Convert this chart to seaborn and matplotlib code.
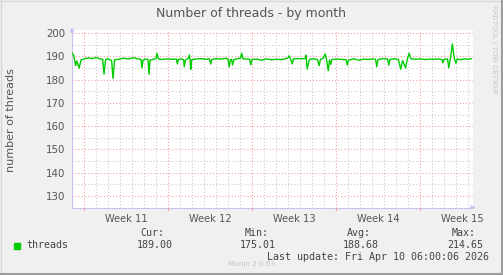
import matplotlib
matplotlib.use('Agg')
import matplotlib.pyplot as plt
import seaborn as sns
import pandas as pd
import numpy as np
from matplotlib.lines import Line2D
from matplotlib.patches import Rectangle

sns.set_style('white')
plt.rcParams['font.family'] = ['DejaVu Sans']

# ---- data (x in days from left edge of graph) ----
days = [
    0.0, 0.15, 0.3, 0.4, 0.6, 0.75, 1.0, 1.4, 1.7, 2.0,
    2.3, 2.55, 2.67, 2.8, 3.0, 3.3, 3.42, 3.55, 3.9, 4.3,
    4.7, 5.1, 5.5, 5.75, 5.83, 5.92, 6.1, 6.33, 6.42, 6.5,
    6.8, 7.0, 7.08, 7.2, 7.5, 7.9, 8.3, 8.7, 8.78, 8.86,
    9.1, 9.3, 9.36, 9.45, 9.7, 9.78, 9.85, 9.9, 9.97, 10.3,
    10.7, 11.1, 11.45, 11.56, 11.65, 12.0, 12.4, 12.8, 13.0, 13.1,
    13.2, 13.3, 13.38, 13.5, 13.8, 14.05, 14.14, 14.25, 14.8, 14.9,
    15.0, 15.4, 15.8, 16.2, 16.6, 17.0, 17.4, 17.8, 18.0, 18.1,
    18.2, 18.36, 18.45, 18.8, 19.2, 19.45, 19.5, 19.6, 19.7, 19.8,
    20.1, 20.45, 20.6, 20.7, 20.95, 21.1, 21.2, 21.36, 21.46, 21.56,
    21.66, 22.0, 22.4, 22.85, 22.94, 23.05, 23.5, 23.9, 24.3, 24.7,
    25.1, 25.3, 25.4, 25.5, 25.9, 26.3, 26.4, 26.5, 26.9, 27.2,
    27.4, 27.55, 27.8, 27.95, 28.1, 28.25, 28.6, 29.0, 29.4, 29.8,
    30.2, 30.6, 30.85, 30.9, 31.0, 31.3, 31.4, 31.55, 31.7, 31.85,
    32.0, 32.1, 32.4, 32.7, 33.0, 33.3,
]
threads = [
    191.5, 190.2, 186.0, 188.0, 184.9, 188.4, 188.9, 189.3, 189.0, 189.5,
    188.9, 188.8, 182.3, 188.6, 188.9, 188.2, 180.5, 188.5, 188.7, 189.2,
    188.8, 189.4, 188.9, 188.6, 185.0, 188.4, 188.8, 188.6, 182.3, 188.3,
    188.7, 189.0, 191.3, 188.9, 188.6, 188.9, 188.7, 188.8, 186.7, 188.6,
    188.9, 188.5, 185.5, 188.4, 189.2, 190.6, 188.0, 184.4, 188.5, 188.8,
    189.0, 188.7, 188.9, 186.7, 188.6, 189.0, 188.8, 189.1, 188.9, 185.5,
    188.5, 188.7, 186.3, 188.6, 189.0, 189.2, 191.3, 188.9, 188.8, 186.3,
    188.6, 188.8, 188.3, 188.9, 188.5, 188.7, 188.6, 188.9, 189.4, 190.2,
    189.0, 186.7, 188.9, 189.0, 188.9, 189.1, 190.5, 184.5, 187.0, 188.7,
    188.9, 188.6, 186.0, 188.6, 189.3, 191.0, 189.0, 183.8, 188.4, 186.5,
    188.6, 188.8, 188.7, 188.5, 186.2, 188.4, 188.9, 188.3, 188.8, 188.6,
    188.9, 188.7, 185.5, 188.6, 189.0, 188.8, 186.2, 188.7, 188.9, 188.6,
    184.4, 188.2, 185.0, 188.8, 191.3, 188.9, 188.7, 188.9, 188.6, 188.8,
    188.7, 188.9, 188.5, 187.2, 188.6, 188.9, 185.0, 189.5, 195.3, 189.5,
    187.0, 188.8, 188.5, 188.9, 188.7, 189.0,
]
week_labels = ['Week 11', 'Week 12', 'Week 13', 'Week 14', 'Week 15']
week_starts = [1.03, 8.03, 15.03, 22.03, 29.03]
y_major = [130, 140, 150, 160, 170, 180, 190, 200]
y_minor = [135, 145, 155, 165, 175, 185, 195]
stat_names = ['Cur:', 'Min:', 'Avg:', 'Max:']
stat_values = ['189.00', '175.01', '188.68', '214.65']
series_name = 'threads'
title = 'Number of threads - by month'
ylabel = 'number of threads'
last_update = 'Last update: Fri Apr 10 06:00:06 2026'

W, H = 503, 275
fig = plt.figure(figsize=(W / 100, H / 100), dpi=100)
fig.patch.set_facecolor('#F0F0F0')

def fx(px):
    return px / W

def fy(py):
    return 1 - py / H

ax = fig.add_axes([fx(72), fy(207.5), fx(401), (207.5 - 30) / H])
ax.set_facecolor('white')

xmax = 33.42
ymin, ymax = 125.06, 201.29

MGRID = '#F59A9A'
GRID = '#C8C8C8'
AXC = '#C4C4EE'
dot = (0, (1, 2))

# grid
for d in np.arange(week_starts[0] - 1, xmax, 1.0):
    if all(abs(d - w) > 0.01 for w in week_starts) and d > 0.05:
        ax.axvline(d, color=GRID, lw=0.75, ls=dot, zorder=1)
for w in week_starts:
    ax.axvline(w, color=MGRID, lw=0.75, ls=dot, zorder=1.1)
for y in y_minor:
    ax.axhline(y, color=GRID, lw=0.75, ls=dot, zorder=1)
for y in y_major:
    ax.axhline(y, color=MGRID, lw=0.75, ls=dot, zorder=1.1)

df = pd.DataFrame({'day': days, 'threads': threads})
sns.lineplot(data=df, x='day', y='threads', color='#00CC00', lw=1.0,
             ax=ax, legend=False, zorder=3)

ax.set_xlim(0, xmax)
ax.set_ylim(ymin, ymax)
ax.set_xlabel('')
ax.set_ylabel('')

for s in ['top', 'right']:
    ax.spines[s].set_visible(False)
for s in ['left', 'bottom']:
    ax.spines[s].set_color(AXC)
    ax.spines[s].set_linewidth(0.8)

mids = [w + 3.5 for w in week_starts]
ax.set_xticks(mids)
ax.set_xticklabels(week_labels)
ax.set_yticks(y_major)
ax.set_yticklabels([str(v) for v in y_major])
ax.tick_params(axis='x', length=0, pad=5, labelsize=7.1, labelcolor='#555555')
ax.tick_params(axis='y', length=2, width=0.7, color=MGRID, pad=3,
               labelsize=7.4, labelcolor='#555555')

# small week tick marks below the x-axis
for w in week_starts:
    ax.plot([w, w], [ymin, ymin - 1.0], color=MGRID, lw=0.8,
            clip_on=False, zorder=4)

# axis arrows
ax.annotate('', xy=(0, 1.03), xytext=(0, 0.98), xycoords='axes fraction',
            arrowprops=dict(arrowstyle='-|>', color=AXC, lw=0.8,
                            mutation_scale=6), annotation_clip=False)
ax.annotate('', xy=(1.013, 0), xytext=(0.99, 0), xycoords='axes fraction',
            arrowprops=dict(arrowstyle='-|>', color=AXC, lw=0.8,
                            mutation_scale=6), annotation_clip=False)

# title and y label
fig.text(fx(251.5), fy(14), title, ha='center', va='center',
         fontsize=9.0, color='#555555')
fig.text(fx(11), fy(120), ylabel, ha='center', va='center', rotation=90,
         fontsize=8.0, color='#555555')

# right vertical credit
fig.text(fx(494), fy(5), 'RRDTOOL / TOBI OETIKER', ha='center', va='top',
         rotation=270, fontsize=5.0, color='#C8C8C8')

# legend block
mono = 'DejaVu Sans Mono'
fig.patches.append(Rectangle((fx(14), fy(249)), fx(6), 6 / H,
                             transform=fig.transFigure, color='#00CC00'))
fig.text(fx(26.5), fy(245.5), series_name, ha='left', va='center',
         family=mono, fontsize=7.2, color='#444444')
name_right = [164.5, 268.5, 371.0, 475.5]
val_right = [172.5, 276.0, 378.5, 482.8]
for nm, vv, xn, xv in zip(stat_names, stat_values, name_right, val_right):
    fig.text(fx(xn), fy(233.5), nm, ha='right', va='center',
             family=mono, fontsize=7.2, color='#444444')
    fig.text(fx(xv), fy(245.5), vv, ha='right', va='center',
             family=mono, fontsize=7.2, color='#444444')
fig.text(fx(489), fy(257), last_update, ha='right', va='center',
         family=mono, fontsize=7.2, color='#444444')
fig.text(fx(251.5), fy(264), 'Munin 2.0.63', ha='center', va='center',
         fontsize=5.2, color='#C4C4C4')

# image border (light top/left, dark bottom/right)
fig.add_artist(Line2D([0, 1], [fy(0.5), fy(0.5)], transform=fig.transFigure,
                      color='#D8D8D8', lw=1.0))
fig.add_artist(Line2D([fx(0.5), fx(0.5)], [0, 1], transform=fig.transFigure,
                      color='#D8D8D8', lw=1.0))
fig.add_artist(Line2D([0, 1], [fy(274), fy(274)], transform=fig.transFigure,
                      color='#9C9C9C', lw=1.5))
fig.add_artist(Line2D([fx(502), fx(502)], [0, 1], transform=fig.transFigure,
                      color='#9C9C9C', lw=1.5))

fig.savefig('out.png', dpi=100, facecolor=fig.get_facecolor())
